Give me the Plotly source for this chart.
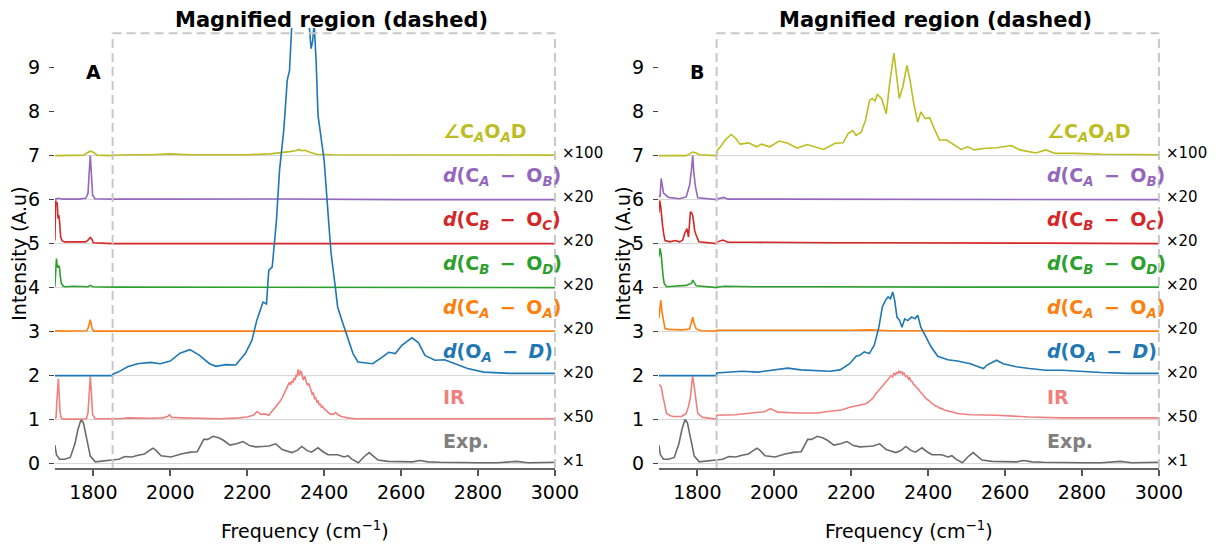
import plotly.graph_objects as go

FONT = "DejaVu Sans"

# ---------------- chart constants ----------------
x_range = [1700, 3000]
y_range = [-0.1, 9.9]
x_ticks = [1800, 2000, 2200, 2400, 2600, 2800, 3000]
y_ticks = [0, 1, 2, 3, 4, 5, 6, 7, 8, 9]
magnified_start = 1850
magnified_end = 3000
magnified_top = 9.78
panel_letters = ["A", "B"]
title_text = "Magnified region (dashed)"
x_title = "Frequency (cm<sup>−1</sup>)"
y_title = "Intensity (A.u)"

MINUS = "\u2009 − \u2009"
# series order: bottom -> top
offsets = [0, 1, 2, 3, 4, 5, 6, 7]
series_labels = [
    "Exp.",
    "IR",
    f"<i>d</i>(O<sub><i>A</i></sub>{MINUS}<i>D</i>)",
    f"<i>d</i>(C<sub><i>A</i></sub>{MINUS}O<sub><i>A</i></sub>)",
    f"<i>d</i>(C<sub><i>B</i></sub>{MINUS}O<sub><i>D</i></sub>)",
    f"<i>d</i>(C<sub><i>B</i></sub>{MINUS}O<sub><i>C</i></sub>)",
    f"<i>d</i>(C<sub><i>A</i></sub>{MINUS}O<sub><i>B</i></sub>)",
    "∠C<sub><i>A</i></sub>O<sub><i>A</i></sub>D",
]
scale_labels = ["×1", "×50", "×20", "×20", "×20", "×20", "×20", "×100"]
line_colors = ["#6b6b6b", "#f08080", "#1f77b4", "#ff7f0e", "#2ca02c", "#d62728", "#9467bd", "#bcbd22"]
label_colors = ["#808080", "#f08080", "#1f77b4", "#ff7f0e", "#2ca02c", "#d62728", "#9467bd", "#bcbd22"]

# ---------------- data (values relative to each baseline) ----------------
exp_x = [1700, 1704, 1712, 1725, 1740, 1752, 1760, 1768, 1774, 1781, 1792, 1805, 1830, 1850, 1866, 1882,
         1900, 1916, 1933, 1946, 1955, 1963, 1976, 2002, 2028, 2053, 2070, 2087, 2097, 2112, 2127, 2138,
         2155, 2172, 2189, 2206, 2222, 2240, 2257, 2274, 2291, 2316, 2330, 2342, 2355, 2367, 2384, 2397,
         2410, 2435, 2452, 2462, 2472, 2489, 2503, 2517, 2530, 2540, 2566, 2600, 2630, 2648, 2670, 2700,
         2750, 2800, 2850, 2900, 2930, 2960, 3000]
exp_y = [0.42, 0.2, 0.1, 0.1, 0.14, 0.45, 0.78, 1.0, 0.93, 0.65, 0.17, 0.04, 0.07, 0.08, 0.1, 0.16,
         0.15, 0.19, 0.22, 0.3, 0.35, 0.3, 0.18, 0.15, 0.22, 0.26, 0.27, 0.55, 0.55, 0.62, 0.58, 0.53,
         0.42, 0.45, 0.5, 0.41, 0.38, 0.39, 0.4, 0.45, 0.32, 0.25, 0.3, 0.39, 0.3, 0.26, 0.36, 0.27,
         0.2, 0.2, 0.15, 0.18, 0.1, 0.02, 0.15, 0.25, 0.15, 0.08, 0.05, 0.05, 0.04, 0.07, 0.04, 0.03,
         0.02, 0.02, 0.02, 0.05, 0.02, 0.02, 0.03]

# Panel A
a_ir_x = [1700, 1703, 1705, 1707, 1709, 1711, 1713, 1716, 1722, 1760, 1782, 1786, 1789, 1792, 1795, 1798,
          1804, 1850, 1850, 1870, 1890, 1920, 1950, 1980, 1993, 1998, 2003, 2030, 2080, 2130, 2180, 2200,
          2215, 2226, 2236, 2246, 2256, 2266,
          2276, 2281, 2286, 2291, 2296, 2300, 2304, 2307, 2310, 2313, 2316, 2319, 2322, 2325, 2327, 2330,
          2332, 2334, 2336, 2338, 2341, 2344, 2346, 2349, 2351, 2354, 2357, 2360, 2363, 2366, 2369, 2372,
          2375, 2378, 2381, 2384, 2387, 2390, 2393, 2396, 2400, 2404, 2407, 2411, 2415,
          2424, 2430, 2436, 2445, 2460, 2480, 2520, 2600, 2700, 2800, 2900, 3000]
a_ir_y = [0.01, 0.05, 0.4, 0.85, 0.93, 0.6, 0.2, 0.04, 0.01, 0.01, 0.02, 0.15, 0.7, 0.98, 0.6, 0.12,
          0.02, 0.01, 0.02, 0.02, 0.04, 0.03, 0.03, 0.04, 0.07, 0.11, 0.05, 0.04, 0.03, 0.02, 0.04, 0.06,
          0.1, 0.18, 0.12, 0.13, 0.1, 0.2,
          0.3, 0.36, 0.42, 0.5, 0.6, 0.66, 0.74, 0.8, 0.85, 0.79, 0.88, 0.84, 0.95, 0.9, 1.02, 0.98,
          1.14, 1.05, 1.0, 1.1, 1.08, 0.96, 0.9, 0.98, 0.95, 0.84, 0.78, 0.82, 0.7, 0.66, 0.58, 0.6,
          0.48, 0.5, 0.4, 0.42, 0.33, 0.36, 0.28, 0.3, 0.25, 0.22, 0.18, 0.17, 0.13,
          0.12, 0.16, 0.11, 0.07, 0.04, 0.02, 0.02, 0.02, 0.03, 0.02, 0.02, 0.02]
a_oad_x = [1700, 1750, 1800, 1850, 1850, 1864, 1889, 1915, 1949, 1974, 2000, 2025, 2051, 2076, 2102, 2119,
           2144, 2170, 2195, 2212, 2225, 2241, 2250, 2256, 2265, 2276, 2284, 2295, 2304, 2310, 2316, 2325,
           2340, 2353, 2361, 2366, 2370, 2374, 2379, 2384, 2391, 2400, 2412, 2418, 2429, 2435, 2446, 2458,
           2475, 2488, 2509, 2526, 2551, 2568, 2585, 2602, 2628, 2645, 2662, 2688, 2713, 2739, 2773, 2815,
           2883, 3000]
a_oad_y = [0.0, 0.0, 0.01, 0.0, 0.03, 0.08, 0.2, 0.27, 0.3, 0.27, 0.33, 0.51, 0.59, 0.46, 0.27, 0.21,
           0.25, 0.24, 0.5, 0.8, 1.26, 1.67, 1.63, 2.39, 2.47, 3.53, 4.67, 5.58, 6.71, 6.94, 8.0, 8.6,
           8.6, 8.2, 7.97, 7.43, 7.6, 8.0, 7.17, 5.92, 5.42, 4.89, 3.46, 2.78, 2.01, 1.56, 1.26, 0.95,
           0.5, 0.31, 0.29, 0.27, 0.42, 0.53, 0.5, 0.69, 0.86, 0.75, 0.46, 0.35, 0.36, 0.27, 0.16, 0.08,
           0.05, 0.05]
a_caoa_x = [1700, 1710, 1720, 1760, 1783, 1787, 1790, 1792, 1794, 1797, 1801, 1850, 1850, 1900, 1950, 2000,
            2100, 2200, 2300, 2400, 2500, 2600, 2800, 3000]
a_caoa_y = [0.01, 0.02, 0.01, 0.01, 0.02, 0.1, 0.22, 0.27, 0.2, 0.06, 0.01, 0.01, 0.01, 0.015, 0.01, 0.015,
            0.01, 0.01, 0.015, 0.01, 0.01, 0.01, 0.01, 0.01]
a_cbod_x = [1700, 1702, 1704, 1706, 1708, 1710, 1712, 1714, 1717, 1722, 1727, 1750, 1786, 1792, 1798, 1850,
            1850, 1950, 2100, 2300, 2500, 2700, 3000]
a_cbod_y = [0.02, 0.4, 0.66, 0.5, 0.45, 0.5, 0.45, 0.25, 0.09, 0.03, 0.02, 0.03, 0.02, 0.05, 0.02, 0.01,
            0.01, 0.01, 0.01, 0.01, 0.01, 0.0, 0.0]
a_cboc_x = [1700, 1702, 1704, 1706, 1708, 1710, 1712, 1715, 1719, 1725, 1750, 1780, 1786, 1792, 1796, 1800,
            1850, 1850, 1950, 2100, 2300, 2500, 2700, 3000]
a_cboc_y = [0.07, 0.98, 0.9, 0.94, 0.57, 0.65, 0.52, 0.15, 0.06, 0.04, 0.04, 0.04, 0.08, 0.14, 0.1, 0.02,
            0.0, 0.0, 0.005, 0.0, 0.0, 0.0, 0.0, 0.0]
a_caob_x = [1700, 1705, 1710, 1720, 1760, 1780, 1786, 1789, 1792, 1795, 1798, 1804, 1850, 1850, 2000, 2300,
            2600, 3000]
a_caob_y = [0.01, 0.02, 0.03, 0.01, 0.01, 0.03, 0.14, 0.6, 1.0, 0.55, 0.1, 0.02, 0.01, 0.01, 0.01, 0.015,
            0.0, 0.0]
a_ang_x = [1700, 1775, 1783, 1792, 1801, 1810, 1850, 1850, 1900, 1950, 2000, 2050, 2100, 2200, 2260, 2290,
           2310, 2325, 2335, 2342, 2350, 2365, 2380, 2420, 2500, 2600, 2800, 3000]
a_ang_y = [0.0, 0.01, 0.06, 0.1, 0.07, 0.01, 0.0, 0.01, 0.02, 0.02, 0.04, 0.02, 0.02, 0.02, 0.04, 0.06,
           0.09, 0.11, 0.14, 0.11, 0.12, 0.07, 0.03, 0.02, 0.02, 0.02, 0.01, 0.01]

# Panel B
b_ir_x = [1700, 1703, 1706, 1710, 1714, 1720, 1730, 1737, 1759, 1771, 1777, 1782, 1786, 1788, 1791, 1795,
          1801, 1814, 1848, 1850, 1850, 1870, 1899, 1941, 1975, 1990, 2009, 2060, 2111, 2145, 2175, 2196,
          2220,
          2238, 2245, 2252, 2258, 2264, 2270, 2277, 2283, 2289, 2294, 2300, 2304, 2308, 2311, 2315, 2318,
          2321, 2324, 2328, 2331, 2334, 2337, 2341, 2345, 2349, 2352, 2355, 2359, 2362, 2366, 2370, 2374,
          2379, 2384, 2388, 2392, 2397, 2401, 2405, 2411, 2417, 2424, 2430, 2436, 2442,
          2460, 2476, 2510, 2578, 2663, 2748, 2850, 3000]
b_ir_y = [0.8, 0.78, 0.75, 0.55, 0.36, 0.14, 0.09, 0.07, 0.07, 0.14, 0.3, 0.51, 0.85, 0.98, 0.8, 0.51,
          0.14, 0.05, 0.01, 0.01, 0.1, 0.1, 0.11, 0.15, 0.18, 0.25, 0.17, 0.15, 0.15, 0.19, 0.22, 0.28,
          0.32,
          0.36, 0.4, 0.45, 0.5, 0.59, 0.64, 0.72, 0.78, 0.85, 0.9, 0.95, 1.0, 0.97, 1.05, 1.02, 1.08,
          1.04, 1.1, 1.06, 1.1, 1.03, 1.06, 0.98, 1.0, 0.92, 0.95, 0.88, 0.86, 0.8, 0.78, 0.72, 0.7,
          0.64, 0.6, 0.55, 0.5, 0.47, 0.44, 0.41, 0.36, 0.32, 0.3, 0.26, 0.25, 0.22,
          0.18, 0.14, 0.11, 0.1, 0.06, 0.04, 0.04, 0.04]
b_oad_x = [1700, 1800, 1850, 1850, 1916, 1958, 2001, 2035, 2069, 2111, 2145, 2171, 2196, 2213, 2222, 2234,
           2247, 2260, 2272, 2281, 2289, 2296, 2302, 2308, 2313, 2319, 2326, 2332, 2339, 2347, 2357, 2366,
           2373, 2381, 2396, 2408, 2425, 2451, 2476, 2510, 2527, 2544, 2553, 2578, 2595, 2629, 2663, 2706,
           2748, 2782, 2850, 2920, 3000]
b_oad_y = [0.0, 0.0, 0.0, 0.06, 0.1, 0.08, 0.13, 0.17, 0.13, 0.12, 0.1, 0.13, 0.27, 0.44, 0.46, 0.54,
           0.5, 0.69, 1.1, 1.56, 1.71, 1.79, 1.75, 1.9, 1.71, 1.33, 1.25, 1.1, 1.29, 1.25, 1.33, 1.29,
           1.37, 1.1, 0.84, 0.65, 0.44, 0.36, 0.33, 0.27, 0.21, 0.16, 0.24, 0.35, 0.27, 0.2, 0.16, 0.12,
           0.12, 0.1, 0.07, 0.05, 0.05]
b_caoa_x = [1700, 1703, 1705, 1708, 1712, 1716, 1725, 1760, 1780, 1785, 1788, 1791, 1797, 1810, 1850, 1850,
            1900, 1950, 2000, 2050, 2100, 2200, 2250, 2300, 2400, 2500, 2700, 3000]
b_caoa_y = [0.3, 0.65, 0.71, 0.45, 0.25, 0.07, 0.05, 0.04, 0.06, 0.2, 0.33, 0.2, 0.06, 0.02, 0.01, 0.03,
            0.03, 0.02, 0.03, 0.02, 0.02, 0.03, 0.04, 0.02, 0.02, 0.01, 0.01, 0.01]
b_cbod_x = [1700, 1703, 1706, 1708, 1711, 1714, 1720, 1771, 1785, 1788, 1792, 1797, 1850, 1850, 1870, 1950,
            2100, 2300, 2500, 2700, 3000]
b_cbod_y = [0.7, 0.89, 0.75, 0.47, 0.25, 0.09, 0.02, 0.05, 0.1, 0.17, 0.1, 0.04, 0.0, 0.01, 0.03, 0.02,
            0.02, 0.01, 0.01, 0.01, 0.01]
b_cboc_x = [1700, 1702, 1705, 1708, 1710, 1713, 1716, 1729, 1742, 1754, 1762, 1767, 1773, 1777, 1780, 1782,
            1785, 1788, 1791, 1793, 1797, 1804, 1850, 1850, 1866, 1880, 1950, 2050, 2150, 2250, 2350, 2450,
            2550, 2700, 3000]
b_cboc_y = [0.7, 0.98, 0.83, 0.5, 0.38, 0.2, 0.07, 0.04, 0.07, 0.04, 0.08, 0.23, 0.34, 0.15, 0.5, 0.72,
            0.7, 0.64, 0.45, 0.3, 0.19, 0.04, 0.0, 0.03, 0.08, 0.03, 0.03, 0.02, 0.02, 0.02, 0.02, 0.02,
            0.01, 0.01, 0.0]
b_caob_x = [1700, 1703, 1706, 1712, 1725, 1754, 1771, 1780, 1785, 1788, 1791, 1795, 1801, 1850, 1850, 1869,
            1880, 2000, 2200, 2400, 2600, 3000]
b_caob_y = [0.1, 0.06, 0.48, 0.15, 0.05, 0.02, 0.06, 0.33, 0.7, 1.0, 0.6, 0.3, 0.04, 0.0, 0.01, 0.05,
            0.01, 0.01, 0.01, 0.01, 0.0, 0.0]
b_ang_x = [1700, 1771, 1780, 1788, 1797, 1805, 1850, 1852, 1860, 1873, 1888, 1899, 1911, 1933, 1954, 1967,
           1988, 2013, 2035, 2060, 2085, 2103, 2128, 2158, 2179, 2192, 2204, 2213, 2226, 2237, 2248, 2255,
           2262, 2268, 2279, 2291, 2300, 2311, 2317, 2325, 2334, 2345, 2353, 2362, 2373, 2381, 2393, 2404,
           2417, 2430, 2447, 2464, 2486, 2503, 2520, 2544, 2578, 2616, 2638, 2680, 2706, 2731, 2782, 2850,
           2920, 3000]
b_ang_y = [0.0, 0.0, 0.04, 0.08, 0.06, 0.02, 0.0, 0.12, 0.2, 0.36, 0.48, 0.4, 0.26, 0.29, 0.2, 0.26,
           0.2, 0.33, 0.28, 0.17, 0.25, 0.21, 0.14, 0.28, 0.29, 0.5, 0.57, 0.46, 0.53, 0.8, 1.26, 1.3,
           1.24, 1.39, 1.3, 0.95, 1.64, 2.33, 1.94, 1.3, 1.56, 2.05, 1.71, 1.21, 0.76, 0.99, 0.84, 0.86,
           0.59, 0.35, 0.36, 0.27, 0.14, 0.2, 0.13, 0.16, 0.18, 0.23, 0.13, 0.06, 0.13, 0.05, 0.05, 0.03,
           0.02, 0.02]

panels = [
    [(exp_x, exp_y), (a_ir_x, a_ir_y), (a_oad_x, a_oad_y), (a_caoa_x, a_caoa_y),
     (a_cbod_x, a_cbod_y), (a_cboc_x, a_cboc_y), (a_caob_x, a_caob_y), (a_ang_x, a_ang_y)],
    [(exp_x, exp_y), (b_ir_x, b_ir_y), (b_oad_x, b_oad_y), (b_caoa_x, b_caoa_y),
     (b_cbod_x, b_cbod_y), (b_cboc_x, b_cboc_y), (b_caob_x, b_caob_y), (b_ang_x, b_ang_y)],
]
draw_order = [0, 1, 3, 4, 5, 6, 7, 2]

# ---------------- figure ----------------
W, H = 1229, 546
domains = [[56 / W, 566 / W], [672 / W, 1182 / W]]
axis_ids = [("x", "y"), ("x2", "y2")]

fig = go.Figure()
for p, series in enumerate(panels):
    xa, ya = axis_ids[p]
    for i in draw_order:
        xs, ys = series[i]
        assert len(xs) == len(ys), (p, i, len(xs), len(ys))
        fig.add_trace(go.Scatter(
            x=xs, y=[v + offsets[i] for v in ys], mode="lines",
            line=dict(color=line_colors[i], width=1.6),
            xaxis=xa, yaxis=ya, hoverinfo="skip", showlegend=False))

shapes = []
annotations = []
box_line = dict(color="#c8c8c8", width=2, dash="9px,5px")
for p in range(2):
    xa, ya = axis_ids[p]
    # baseline grid lines
    for off in offsets:
        shapes.append(dict(type="line", xref=f"{xa} domain", yref=ya, x0=0, x1=1, y0=off, y1=off,
                           line=dict(color="#d4d4d4", width=1), layer="below"))
    # dashed magnified box
    shapes.append(dict(type="line", xref=xa, yref=ya, x0=magnified_start, x1=magnified_start,
                       y0=y_range[0], y1=magnified_top, line=box_line))
    shapes.append(dict(type="line", xref=xa, yref=ya, x0=magnified_start, x1=magnified_end,
                       y0=magnified_top, y1=magnified_top, line=box_line))
    shapes.append(dict(type="line", xref=f"{xa} domain", yref=ya, x0=1, x1=1,
                       y0=y_range[0], y1=magnified_top, line=box_line))

    for i, off in enumerate(offsets):
        annotations.append(dict(x=2705, y=off + 0.52, xref=xa, yref=ya, xanchor="left", yanchor="middle",
                                text=f"<b>{series_labels[i]}</b>", showarrow=False,
                                font=dict(family=FONT, size=19, color=label_colors[i])))
        annotations.append(dict(x=1, y=off + 0.07, xref=f"{xa} domain", yref=ya, xshift=5,
                                xanchor="left", yanchor="middle", text=scale_labels[i], showarrow=False,
                                font=dict(family=FONT, size=15, color="black")))
    annotations.append(dict(x=1800, y=8.9, xref=xa, yref=ya, xanchor="center", yanchor="middle",
                            text=f"<b>{panel_letters[p]}</b>", showarrow=False,
                            font=dict(family=FONT, size=19, color="black")))
    annotations.append(dict(x=2420, y=(468 - 20) / 440, xref=xa, yref="paper", xanchor="center",
                            yanchor="middle", text=f"<b>{title_text}</b>", showarrow=False,
                            font=dict(family=FONT, size=21, color="black")))
    annotations.append(dict(x=0.5, y=(468 - 530) / 440, xref=f"{xa} domain", yref="paper",
                            xanchor="center", yanchor="middle", text=x_title, showarrow=False,
                            font=dict(family=FONT, size=19, color="black")))
    annotations.append(dict(x=(20 + 616 * p) / W, y=0.486, xref="paper", yref="paper",
                            xanchor="center", yanchor="middle", text=y_title, textangle=-90,
                            showarrow=False, font=dict(family=FONT, size=19, color="black")))

xaxis_common = dict(range=x_range, tickvals=x_ticks, ticks="outside", ticklen=6, tickwidth=1.5,
                    tickcolor="#555555", showline=True, linecolor="#666666", linewidth=2,
                    showgrid=False, zeroline=False, fixedrange=True,
                    tickfont=dict(family=FONT, size=19, color="black"))
yaxis_common = dict(range=y_range, tickvals=y_ticks, ticks="outside", ticklen=5, tickwidth=1.2,
                    tickcolor="#444444", showline=False, showgrid=False, zeroline=False,
                    ticklabelstandoff=5, fixedrange=True,
                    tickfont=dict(family=FONT, size=19, color="black"))

fig.update_layout(
    width=W, height=H,
    margin=dict(l=0, r=0, t=28, b=78),
    paper_bgcolor="white", plot_bgcolor="white",
    showlegend=False,
    font=dict(family=FONT, size=19, color="black"),
    xaxis=dict(domain=domains[0], anchor="y", **xaxis_common),
    xaxis2=dict(domain=domains[1], anchor="y2", **xaxis_common),
    yaxis=dict(domain=[0, 1], anchor="x", **yaxis_common),
    yaxis2=dict(domain=[0, 1], anchor="x2", **yaxis_common),
    shapes=shapes,
    annotations=annotations,
)

fig.write_html("out.html")
